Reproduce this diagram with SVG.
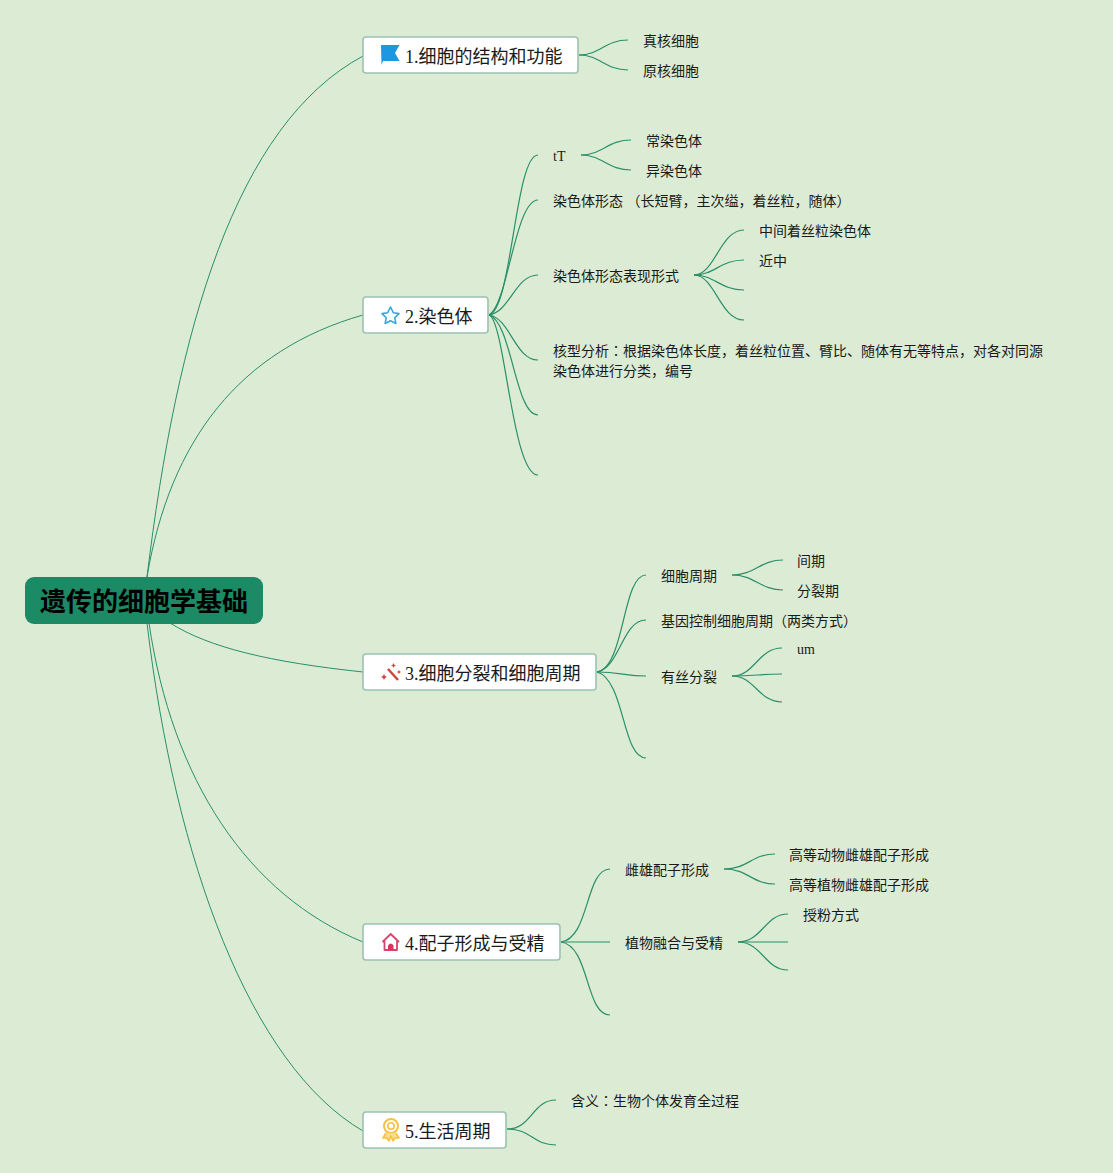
<svg xmlns="http://www.w3.org/2000/svg" width="1113" height="1173" viewBox="0 0 1113 1173">
<style>
.c{fill:none;stroke:#2a8f68;stroke-width:1.2}
.r{fill:none;stroke:#2a8f68;stroke-width:1}
.t{font-family:"Liberation Serif","Noto Sans CJK SC",serif;font-size:14px;fill:#1a1a1a}
.k{font-family:"Noto Sans CJK TC",sans-serif}
.m{font-family:"Liberation Serif","Noto Sans CJK SC",serif;font-size:18px;fill:#1a1a1a}
.b{fill:#fff;stroke:#9cc2b2;stroke-width:1.6}
</style>
<rect width="1113" height="1173" fill="#dcebd4"/>
<g id="connectors">
<path class="r" d="M147 577C177 330 235 125 363 56"/>
<path class="r" d="M147 577C170 440 240 350 363 315"/>
<path class="r" d="M170 623C210 648 270 662 363 672"/>
<path class="r" d="M149 623C172 780 248 895 363 942"/>
<path class="r" d="M147 623C175 860 250 1065 363 1131"/>
<path class="c" d="M579 55C600 55 605 40 628 40"/>
<path class="c" d="M579 55C600 55 605 70 628 70"/>
<path class="c" d="M489 315C512 310 515 155 538 155"/>
<path class="c" d="M489 315C508 305 515 200 538 200"/>
<path class="c" d="M489 315C510 312 515 275 538 275"/>
<path class="c" d="M489 315C510 318 515 360 538 360"/>
<path class="c" d="M489 315C512 322 515 415 538 415"/>
<path class="c" d="M489 315C505 320 512 475 538 475"/>
<path class="c" d="M581 155C602 155 608 140 631 140"/>
<path class="c" d="M581 155C602 155 608 170 631 170"/>
<path class="c" d="M694 275C715 275 720 230 744 230"/>
<path class="c" d="M694 275C715 275 720 260 744 260"/>
<path class="c" d="M694 275C715 275 720 290 744 290"/>
<path class="c" d="M694 275C715 275 720 320 744 320"/>
<path class="c" d="M597 672C625 668 622 575 646 575"/>
<path class="c" d="M597 672C620 668 622 620 646 620"/>
<path class="c" d="M597 672C620 672 625 676 646 676"/>
<path class="c" d="M597 672C625 680 622 758 646 758"/>
<path class="c" d="M732 575C755 575 760 560 783 560"/>
<path class="c" d="M732 575C755 575 760 590 783 590"/>
<path class="c" d="M732 676C755 676 758 648 782 648"/>
<path class="c" d="M732 676C755 676 760 674 782 674"/>
<path class="c" d="M732 676C755 676 758 702 782 702"/>
<path class="c" d="M561 942C590 938 585 869 610 869"/>
<path class="c" d="M561 942H610"/>
<path class="c" d="M561 942C590 946 585 1015 610 1015"/>
<path class="c" d="M724 869C748 869 752 854 775 854"/>
<path class="c" d="M724 869C748 869 752 884 775 884"/>
<path class="c" d="M738 942C762 942 765 914 788 914"/>
<path class="c" d="M738 942H788"/>
<path class="c" d="M738 942C762 942 765 970 788 970"/>
<path class="c" d="M507 1129C532 1129 532 1100 556 1100"/>
<path class="c" d="M507 1129C532 1129 532 1145 556 1145"/>
</g>
<g id="root"><rect x="25" y="577" width="238" height="47" rx="9" fill="#1c8a64"/><text x="40" y="611" font-family="'Noto Sans CJK SC',sans-serif" font-size="26" font-weight="700" fill="#000">遗传的细胞学基础</text></g>
<g id="n1"><rect class="b" x="363" y="37" width="215" height="36" rx="3"/><path d="M381 45H399.500L395 53L399.500 61H383L381.500 65Z" fill="#1b98e0"/><text class="m" x="405" y="63">1.细胞的结构和功能</text></g>
<g id="n2"><rect class="b" x="363" y="297" width="125" height="36" rx="3"/><path d="M390.500 307L393.300 312.700L399 313.600L394.800 317.800L395.900 323.500L390.500 320.800L385.100 323.500L386.200 317.800L382 313.600L387.700 312.700Z" fill="none" stroke="#3aa5e2" stroke-width="1.600" stroke-linejoin="round"/><text class="m" x="405" y="323">2.染色体</text></g>
<g id="n3"><rect class="b" x="363" y="654" width="233" height="36" rx="3"/><path d="M388 669L398 680" stroke="#d0443c" stroke-width="2.500" fill="none"/><path id="s1" d="M393.500 663L394.300 664.700L396 665.500L394.300 666.300L393.500 668L392.700 666.300L391 665.500L392.700 664.700Z" fill="#d0443c"/><path d="M399 670L399.700 671.300L401 672L399.700 672.700L399 674L398.300 672.700L397 672L398.300 671.300Z" fill="#d0443c"/><path d="M384 674L385 676L387 677L385 678L384 680L383 678L381 677L383 676Z" fill="#d0443c"/><text class="m" x="405" y="680">3.细胞分裂和细胞周期</text></g>
<g id="n4"><rect class="b" x="363" y="924" width="197" height="36" rx="3"/><path d="M382.500 942L390.700 934L399 942M384.500 941V950H397V941" fill="none" stroke="#d8456c" stroke-width="1.800" stroke-linejoin="round"/><path d="M388 950V945.500Q390.700 941.500 393.500 945.500V950Z" fill="#d8365f"/><text class="m" x="405" y="950">4.配子形成与受精</text></g>
<g id="n5"><rect class="b" x="363" y="1112" width="143" height="36" rx="3"/><circle cx="391" cy="1126" r="7" fill="none" stroke="#f5c242" stroke-width="2"/><circle cx="391" cy="1126" r="3.200" fill="none" stroke="#f5c242" stroke-width="1.600"/><path d="M386 1133L383 1138L387 1138L389 1141L391 1136L393 1141L395 1138L399 1138L396 1133" fill="#f9dc8c" stroke="#f5c242" stroke-width="1.600" stroke-linejoin="round"/><text class="m" x="405" y="1138">5.生活周期</text></g>
<g id="leaves">
<text class="t" x="643" y="46">真核细胞</text>
<text class="t" x="643" y="76">原核细胞</text>
<text class="t" x="553" y="161">tT</text>
<text class="t" x="646" y="146">常染色体</text>
<text class="t" x="646" y="176">异染色体</text>
<text class="t" x="553" y="206">染色体形态 （长短臂，主次缢，着丝粒，随体）</text>
<text class="t" x="553" y="281">染色体形态表现形式</text>
<text class="t" x="759" y="236">中间着丝粒染色体</text>
<text class="t" x="759" y="266">近中</text>
<text class="t" x="553" y="356">核型分析<tspan class="k">：</tspan>根据染色体长度，着丝粒位置、臂比、随体有无等特点，对各对同源</text>
<text class="t" x="553" y="376">染色体进行分类，编号</text>
<text class="t" x="661" y="581">细胞周期</text>
<text class="t" x="797" y="566">间期</text>
<text class="t" x="797" y="596">分裂期</text>
<text class="t" x="661" y="626">基因控制细胞周期（两类方式）</text>
<text class="t" x="661" y="682">有丝分裂</text>
<text class="t" x="797" y="654">um</text>
<text class="t" x="625" y="875">雌雄配子形成</text>
<text class="t" x="789" y="860">高等动物雌雄配子形成</text>
<text class="t" x="789" y="890">高等植物雌雄配子形成</text>
<text class="t" x="625" y="948">植物融合与受精</text>
<text class="t" x="803" y="920">授粉方式</text>
<text class="t" x="571" y="1106">含义<tspan class="k">：</tspan>生物个体发育全过程</text>
</g>
</svg>
